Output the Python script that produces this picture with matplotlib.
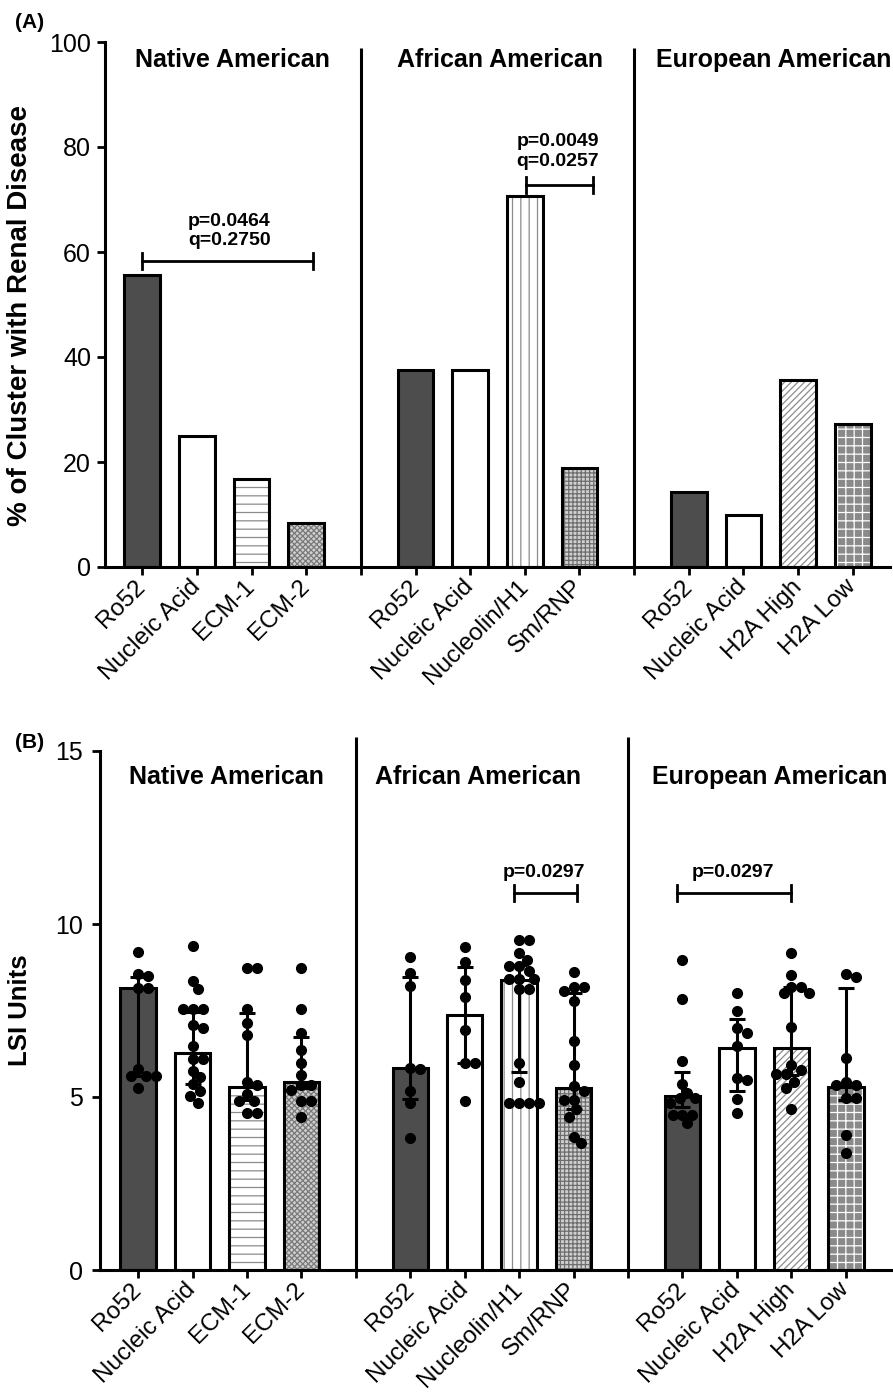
import numpy as np
import matplotlib.pyplot as plt

plt.rcParams['font.family'] = ['Liberation Sans', 'DejaVu Sans']
plt.rcParams['hatch.linewidth'] = 0.9

# ---- data ----
groups = ['Native American', 'African American', 'European American']
clusters = ['Ro52', 'Nucleic Acid', 'ECM-1', 'ECM-2',
            'Ro52', 'Nucleic Acid', 'Nucleolin/H1', 'Sm/RNP',
            'Ro52', 'Nucleic Acid', 'H2A High', 'H2A Low']

# (A) % of cluster with renal disease
pct_renal = [55.6, 25.0, 16.7, 8.3,
             37.5, 37.5, 70.6, 18.8,
             14.3, 10.0, 35.7, 27.3]

# (B) LSI units: median, interquartile range, individual subjects
lsi_median = [8.15, 6.26, 5.28, 5.44,
              5.83, 7.37, 8.38, 5.25,
              5.03, 6.41, 6.41, 5.30]
lsi_low = [5.61, 5.38, 4.91, 5.25,
           4.93, 5.97, 5.73, 4.64,
           4.70, 5.18, 5.64, 4.90]
lsi_high = [8.48, 7.47, 7.42, 6.74,
            8.48, 8.75, 8.82, 8.02,
            5.71, 7.25, 8.19, 8.14]
lsi_points = [
    [9.2, 8.5, 8.55, 8.15, 8.15, 5.8, 5.6, 5.6, 5.6, 5.25],
    [9.37, 8.36, 8.11, 7.54, 7.54, 7.54, 7.08, 7.0, 6.46, 6.09, 6.09, 5.76, 5.59, 5.38, 5.17, 5.03, 4.82],
    [8.74, 8.74, 7.54, 7.15, 6.78, 5.44, 5.35, 5.1, 4.87, 4.87, 4.53, 4.53],
    [8.74, 7.54, 6.84, 6.36, 5.97, 5.64, 5.35, 5.35, 5.2, 4.87, 4.87, 4.43],
    [9.06, 8.58, 8.21, 5.83, 5.8, 5.18, 4.84, 3.81],
    [9.34, 8.91, 8.38, 7.9, 6.94, 5.97, 5.97, 4.87],
    [9.54, 9.54, 9.17, 8.96, 8.79, 8.79, 8.65, 8.4, 8.4, 8.4, 8.11, 8.11, 5.99, 5.44, 4.84, 4.84, 4.84, 4.84],
    [8.62, 8.17, 8.17, 8.05, 7.78, 6.63, 5.92, 5.32, 5.18, 4.91, 4.91, 4.64, 4.43, 3.84, 3.66],
    [8.96, 7.83, 6.05, 5.38, 5.13, 4.96, 4.96, 4.82, 4.48, 4.48, 4.48, 4.24],
    [8.0, 7.49, 6.99, 6.86, 6.47, 5.56, 5.49, 4.93, 4.55],
    [9.17, 8.53, 8.19, 8.19, 8.02, 8.02, 7.03, 5.92, 5.78, 5.66, 5.66, 5.44, 5.25, 4.64],
    [8.55, 8.46, 6.12, 5.44, 5.35, 5.35, 4.96, 4.96, 3.9, 3.37],
]

# bar fill styles per cluster: (face colour, hatch, hatch colour)
fill_style = {
    'Ro52': ('#4d4d4d', None, '#4d4d4d'),
    'Nucleic Acid': ('white', None, 'white'),
    'ECM-1': ('white', '--', '#8c8c8c'),
    'ECM-2': ('#cfcfcf', 'xxxxxx', '#7a7a7a'),
    'Nucleolin/H1': ('white', '||', '#8c8c8c'),
    'Sm/RNP': ('#d0d0d0', '++++', '#6e6e6e'),
    'H2A High': ('white', '/////', '#8c8c8c'),
    'H2A Low': ('#8a8a8a', '++', 'white'),
}

# x positions: 4 bars per group, a gap (separator) between groups
xpos = np.array([g * 5 + j + 1 for g in range(3) for j in range(4)])
seps = [5, 10]
bar_w = 0.65
lw = 2.2


def draw_bars(ax, heights):
    for x, h, name in zip(xpos, heights, clusters):
        face, hatch, hcol = fill_style[name]
        ax.bar(x, h, width=bar_w, color=face, hatch=hatch, edgecolor=hcol,
               linewidth=0, zorder=2)
        ax.bar(x, h, width=bar_w, fill=False, edgecolor='black',
               linewidth=lw, zorder=3)


def style_axis(ax, xlim):
    for s in ['top', 'right']:
        ax.spines[s].set_visible(False)
    for s in ['left', 'bottom']:
        ax.spines[s].set_linewidth(lw)
    ax.set_xlim(*xlim)
    ticks = list(range(1, 15))
    ticklabels = []
    k = 0
    for t in ticks:
        if t in seps:
            ticklabels.append('')
        else:
            ticklabels.append(clusters[k])
            k += 1
    ax.set_xticks(ticks)
    ax.set_xticklabels(ticklabels, rotation=45, ha='right', va='center',
                       rotation_mode='anchor', fontsize=17.5)
    ax.tick_params(axis='both', length=6, width=2, color='black')
    ax.tick_params(axis='x', pad=6)


def bracket(ax, x1, x2, y, cap, text, ty):
    ax.plot([x1, x2], [y, y], color='black', lw=2, zorder=5)
    ax.plot([x1, x1], [y - cap, y + cap], color='black', lw=2, zorder=5)
    ax.plot([x2, x2], [y - cap, y + cap], color='black', lw=2, zorder=5)
    ax.text(ty[0], ty[1], text, ha='center', va='center',
            fontsize=14, fontweight='bold')


def swarm(vals, d_px, sx, sy):
    placed = []
    offs = np.zeros(len(vals))
    steps = [0.0] + [s * m * 0.25 * d_px for m in range(1, 30) for s in (1, -1)]
    for i in np.argsort(vals)[::-1]:
        y = vals[i] * sy
        for c in steps:
            if all((c - px) ** 2 + (y - py) ** 2 >= (0.95 * d_px) ** 2 for px, py in placed):
                break
        placed.append((c, y))
        offs[i] = c / sx
    return offs


fig = plt.figure(figsize=(8.93, 13.95), dpi=100)

# ---------------- panel A ----------------
axA = fig.add_axes([105 / 893, 1 - 567 / 1395, 785 / 893, 525 / 1395])
draw_bars(axA, pct_renal)
style_axis(axA, (0.32, 14.68))
axA.set_ylim(0, 100)
axA.set_yticks([0, 20, 40, 60, 80, 100])
axA.tick_params(axis='y', labelsize=18, pad=4)
axA.set_ylabel('% of Cluster with Renal Disease', fontsize=20, fontweight='bold')
axA.yaxis.set_label_coords(-0.092, 0.48)
axA.vlines(seps, 0, 98.9, color='black', lw=lw, clip_on=False)
for cx, g in zip([2.66, 7.55, 12.55], groups):
    axA.text(cx, 96.6, g, ha='center', va='center', fontsize=18, fontweight='bold')
bracket(axA, 1.0, 4.12, 58.3, 1.5, 'p=0.0464\nq=0.2750', (2.59, 64.0))
bracket(axA, 8.02, 9.25, 72.8, 1.5, 'p=0.0049\nq=0.0257', (8.6, 79.1))

# ---------------- panel B ----------------
axB = fig.add_axes([100 / 893, 1 - 1270 / 1395, 791 / 893, 519 / 1395])
draw_bars(axB, lsi_median)
style_axis(axB, (0.30, 14.83))
axB.set_ylim(0, 15)
axB.set_yticks([0, 5, 10, 15])
axB.tick_params(axis='y', labelsize=18, pad=6)
axB.set_ylabel('LSI Units', fontsize=18.5, fontweight='bold')
axB.yaxis.set_label_coords(-0.086, 0.5)
axB.vlines(seps, 0, 15.4, color='black', lw=lw, clip_on=False)
for cx, g in zip([2.62, 7.24, 12.6], groups):
    axB.text(cx, 14.25, g, ha='center', va='center', fontsize=18, fontweight='bold')

med = np.array(lsi_median)
axB.errorbar(xpos, med, yerr=[med - np.array(lsi_low), np.array(lsi_high) - med],
             fmt='none', ecolor='black', elinewidth=2.2, capsize=6, capthick=2.2, zorder=4)
for x, pts in zip(xpos, lsi_points):
    offs = swarm(np.array(pts), 10, 54.46, 34.6)
    axB.plot(x + offs, pts, 'o', color='black', ms=7, zorder=5, clip_on=False)

bracket(axB, 7.9, 9.06, 10.9, 0.23, 'p=0.0297', (8.45, 11.5))
bracket(axB, 10.9, 13.0, 10.9, 0.23, 'p=0.0297', (11.93, 11.5))

fig.text(15 / 893, 1 - 22 / 1395, '(A)', fontsize=15, fontweight='bold', va='center')
fig.text(15 / 893, 1 - 742 / 1395, '(B)', fontsize=15, fontweight='bold', va='center')

fig.savefig('out.png', dpi=100)
